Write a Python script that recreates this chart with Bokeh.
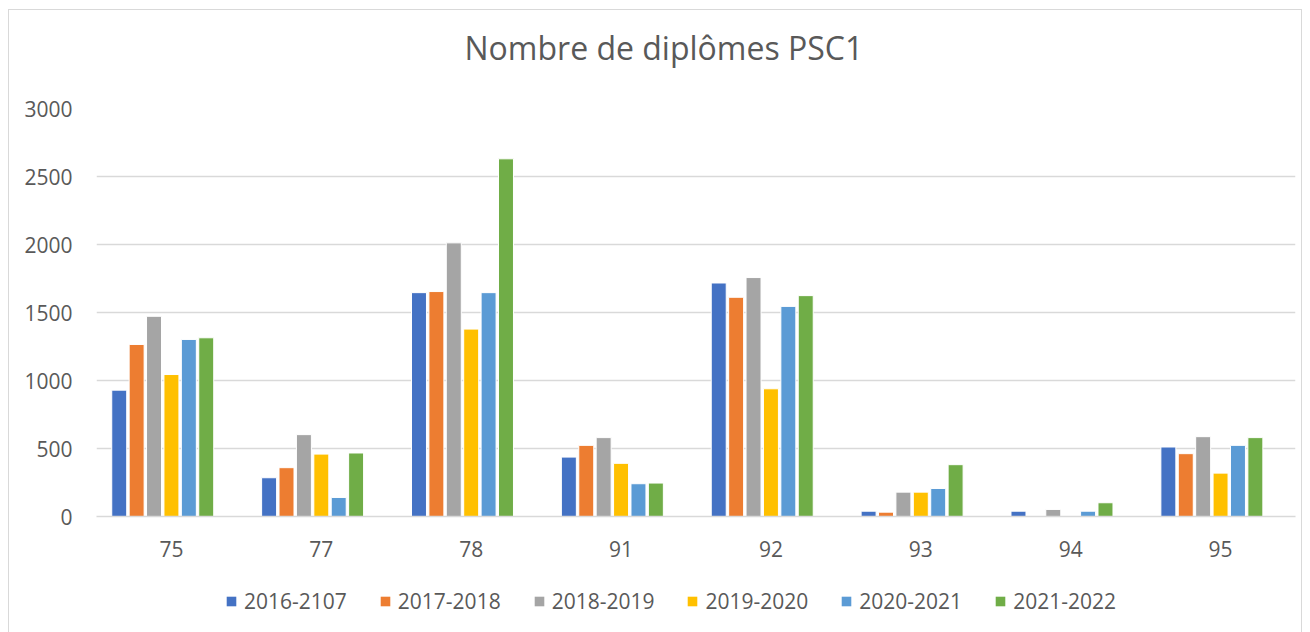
from bokeh.plotting import figure
from bokeh.layouts import column
from bokeh.models import (FactorRange, Legend, LegendItem, ColumnDataSource,
                          SingleIntervalTicker, InlineStyleSheet, Range1d)
from bokeh.transform import dodge
from bokeh.embed import file_html
from bokeh.resources import INLINE

departements = ["75", "77", "78", "91", "92", "93", "94", "95"]
s2016_2107 = [929, 285, 1646, 437, 1717, 39, 39, 511]
s2017_2018 = [1265, 359, 1654, 523, 1612, 32, 0, 462]
s2018_2019 = [1472, 602, 2012, 580, 1757, 179, 52, 587]
s2019_2020 = [1044, 459, 1378, 391, 939, 179, 3, 319]
s2020_2021 = [1302, 140, 1646, 241, 1545, 206, 39, 523]
s2021_2022 = [1314, 467, 2630, 246, 1624, 381, 101, 580]

series_names = ["2016-2107", "2017-2018", "2018-2019", "2019-2020", "2020-2021", "2021-2022"]
series_values = [s2016_2107, s2017_2018, s2018_2019, s2019_2020, s2020_2021, s2021_2022]
colors = ["#4472C4", "#ED7D31", "#A5A5A5", "#FFC000", "#5B9BD5", "#70AD47"]
n_slots = 7  # the source chart reserves a 7th (empty) slot in each cluster

data = {"dep": departements}
for i, vals in enumerate(series_values):
    data["s%d" % i] = vals
source = ColumnDataSource(data)

FONT = "Open Sans"
TXT = "#595959"
GRID = "#D9D9D9"
FS = "21px"
W = 1302
xr = FactorRange(*departements, range_padding=0)


def blank(fig):
    fig.outline_line_color = None
    fig.xgrid.grid_line_color = None
    fig.ygrid.grid_line_color = None
    fig.background_fill_color = "white"
    fig.border_fill_color = "white"


# title strip
pt = figure(width=W, height=92, output_backend="svg", toolbar_location=None,
            x_axis_type=None, y_axis_type=None, min_border=0,
            min_border_left=96, min_border_right=7,
            x_range=xr, y_range=Range1d(0, 1))
blank(pt)
pt.title.text = "Nombre de diplômes PSC1"
pt.title.align = "left"
pt.title.offset = 368
pt.title.text_font = FONT
pt.title.text_font_size = "32px"
pt.title.text_font_style = "normal"
pt.title.text_color = TXT
pt.title.standoff = 46

# main chart
p = figure(
    x_range=xr,
    y_range=(0, 3000),
    width=W, height=483,
    output_backend="svg", toolbar_location=None,
    min_border_left=96, min_border_right=7, min_border_top=16, min_border_bottom=59,
)
blank(p)

pitch = 0.1161
bw = 0.1
for i, name in enumerate(series_names):
    off = (i - (n_slots - 1) / 2) * pitch
    p.vbar(x=dodge("dep", off, range=p.x_range), top="s%d" % i, width=bw,
           source=source, fill_color=colors[i], line_color="white", line_width=1)

p.ygrid.grid_line_color = GRID
p.ygrid.grid_line_width = 1.5
p.yaxis.ticker = SingleIntervalTicker(interval=500)

p.yaxis.axis_line_color = None
p.yaxis.major_tick_line_color = None
p.yaxis.minor_tick_line_color = None
p.yaxis.major_label_text_font = FONT
p.yaxis.major_label_text_font_size = FS
p.yaxis.major_label_text_color = TXT
p.yaxis.major_label_standoff = 18

p.xaxis.axis_line_color = GRID
p.xaxis.axis_line_width = 1.5
p.xaxis.major_tick_line_color = None
p.xaxis.minor_tick_line_color = None
p.xaxis.major_label_text_font = FONT
p.xaxis.major_label_text_font_size = FS
p.xaxis.major_label_text_color = TXT
p.xaxis.major_label_standoff = 18

# legend strip below the chart (swatch renderers: zero-width bars outside the view)
pl = figure(width=W, height=41, output_backend="svg", toolbar_location=None,
            x_axis_type=None, y_axis_type=None, min_border=0,
            x_range=xr, y_range=Range1d(-2, -1))
blank(pl)
items = []
for i, name in enumerate(series_names):
    r = pl.vbar(x="dep", top="s%d" % i, width=0, source=source,
                fill_color=colors[i], line_color=None)
    items.append(LegendItem(label=name, renderers=[r]))
legend = Legend(items=items, orientation="horizontal", location=(129, 1))
legend.label_text_font = FONT
legend.label_text_font_size = FS
legend.label_text_color = TXT
legend.glyph_width = 12
legend.glyph_height = 12
legend.label_standoff = 7
legend.spacing = 32
legend.padding = 0
legend.margin = 0
legend.border_line_color = None
legend.background_fill_alpha = 0
pl.add_layout(legend, "center")

css = InlineStyleSheet(css=""":host::after {
  content: ""; position: absolute; left: 8px; top: 9px; right: 0px; bottom: -40px;
  border: 1px solid #D9D9D9; pointer-events: none; z-index: 100;
}""")
layout = column(pt, p, pl, spacing=0, stylesheets=[css])

open("out.html", "w").write(file_html(layout, INLINE))
